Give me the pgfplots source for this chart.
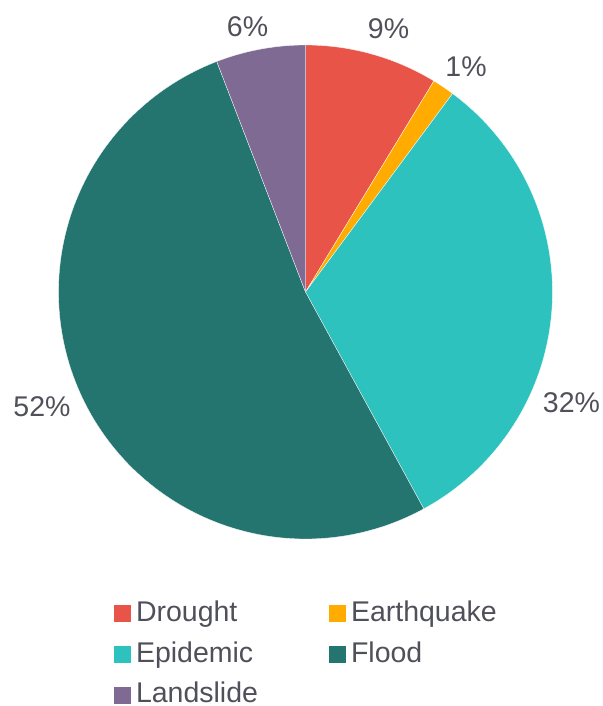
\documentclass[border=0pt]{standalone}
\usepackage{pgfplots}
\pgfplotsset{compat=1.18}
\usepackage{fontspec}
\setmainfont{Liberation Sans}
\definecolor{cDrought}{RGB}{232,84,72}
\definecolor{cEarthquake}{RGB}{255,171,0}
\definecolor{cEpidemic}{RGB}{46,194,190}
\definecolor{cFlood}{RGB}{36,116,112}
\definecolor{cLandslide}{RGB}{127,106,147}
\definecolor{ctext}{RGB}{80,80,90}
% shares (percent)
\def\vDrought{8.7}
\def\vEarthquake{1.45}
\def\vEpidemic{31.9}
\def\vFlood{52.1}
\def\vLandslide{5.85}
\pgfmathsetmacro{\cA}{\vDrought}
\pgfmathsetmacro{\cB}{\cA+\vEarthquake}
\pgfmathsetmacro{\cC}{\cB+\vEpidemic}
\pgfmathsetmacro{\cD}{\cC+\vFlood}
\pgfmathsetmacro{\cE}{\cD+\vLandslide}
\def\cx{305.5}
\def\cy{414}
\def\R{247}
\pgfplotsset{
  pieslice/.style={draw=white, line width=0.3bp, variable=\t, samples=90, forget plot=false},
  legend image code/.code={\fill[#1,draw=none] (0bp,-10.5bp) rectangle (17bp,6.5bp);},
}
\begin{document}
\begin{tikzpicture}
\path[use as bounding box] (0,0) rectangle (603bp,706bp);
\begin{axis}[
  at={(0,0)}, anchor=south west,
  scale only axis, width=603bp, height=706bp,
  xmin=0, xmax=603, ymin=0, ymax=706,
  hide axis, clip=false,
  legend columns=2,
  legend cell align=left,
  legend style={draw=none, fill=none, inner sep=0pt, outer sep=0pt,
    at={(axis cs:114,105.5)}, anchor=north west,
    font=\fontsize{28.5bp}{34bp}\selectfont, text=ctext,
    row sep=17.6bp,
    nodes={inner sep=0pt, text height=21bp, text depth=2bp},
    /tikz/every odd column/.append style={column sep=5bp},
    /tikz/every even column/.append style={column sep=71bp}},
]
\addplot[pieslice, fill=cDrought, domain=0:\cA]
  ({\cx+\R*sin(3.6*\t)}, {\cy+\R*cos(3.6*\t)}) -- (axis cs:\cx,\cy) -- cycle;
\addlegendentry{Drought}
\addplot[pieslice, fill=cEarthquake, domain=\cA:\cB, samples=10]
  ({\cx+\R*sin(3.6*\t)}, {\cy+\R*cos(3.6*\t)}) -- (axis cs:\cx,\cy) -- cycle;
\addlegendentry{Earthquake}
\addplot[pieslice, fill=cEpidemic, domain=\cB:\cC, samples=150]
  ({\cx+\R*sin(3.6*\t)}, {\cy+\R*cos(3.6*\t)}) -- (axis cs:\cx,\cy) -- cycle;
\addlegendentry{Epidemic}
\addplot[pieslice, fill=cFlood, domain=\cC:\cD, samples=200]
  ({\cx+\R*sin(3.6*\t)}, {\cy+\R*cos(3.6*\t)}) -- (axis cs:\cx,\cy) -- cycle;
\addlegendentry{Flood}
\addplot[pieslice, fill=cLandslide, domain=\cD:\cE, samples=40]
  ({\cx+\R*sin(3.6*\t)}, {\cy+\R*cos(3.6*\t)}) -- (axis cs:\cx,\cy) -- cycle;
\addlegendentry{Landslide}
\begin{scope}[every node/.style={font=\fontsize{28.5bp}{34bp}\selectfont, text=ctext, inner sep=0pt}]
\node at (axis cs:388.5,677.2) {9\%};
\node at (axis cs:466,639) {1\%};
\node at (axis cs:571.5,303.8) {32\%};
\node at (axis cs:42,299) {52\%};
\node at (axis cs:247.5,679.7) {6\%};
\end{scope}
\end{axis}
\end{tikzpicture}
\end{document}
